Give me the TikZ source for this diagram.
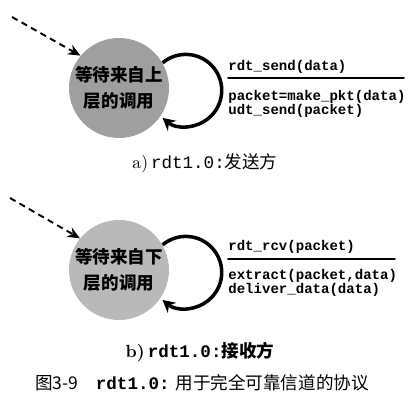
\documentclass[tikz,border=0pt]{standalone}
\usepackage{fontspec}
\setmonofont{Liberation Mono}
\newfontfamily\cjk{Noto Sans CJK SC}
\usetikzlibrary{arrows.meta}

\begin{document}
\begin{tikzpicture}[x=0.02cm,y=0.02cm,line cap=round,line join=round,
trangthai/.style={circle,minimum size=2cm,inner sep=0pt,align=center,
font=\cjk\bfseries\fontsize{10}{14.5}\selectfont},
vao/.style={line width=1.1pt,line cap=butt,dash pattern=on 3.6pt off 2.6pt,
-{Stealth[length=7pt,width=6pt]}},
vong/.style={line width=2pt,line cap=butt,-{Stealth[length=7pt,width=7.5pt]}},
nhan/.style={anchor=west,inner sep=0pt,font=\ttfamily\bfseries\fontsize{8}{9}\selectfont}]
\useasboundingbox (0,0) rectangle (411,405);
% Ben gui: trang thai cho lop tren
\node[trangthai,fill=gray!75] (gui) at (119,317) {等待来自上\\层的调用};
\coordinate (guivao) at (12,388);
\draw[vao] (guivao) -- (gui.140);
\draw[vong] (gui.30) arc[start angle=130,end angle=-130,radius=0.72cm];
\node[nhan] (guisk) at (228,338) {rdt\_send(data)};
\draw[line width=0.9pt] (228,327) -- (404,327);
\node[nhan] (guihd1) at (228,308) {packet=make\_pkt(data)};
\node[nhan] (guihd2) at (228,294) {udt\_send(packet)};
\node (guiten) at (205,242) {\fontsize{10}{12}\selectfont a)\,\texttt{rdt1.0:}{\cjk 发送方}};
% Ben nhan: trang thai cho lop duoi
\node[trangthai,fill=gray!55] (nhan) at (119,135) {等待来自下\\层的调用};
\coordinate (nhanvao) at (10,207);
\draw[vao] (nhanvao) -- (nhan.141);
\draw[vong] (nhan.30) arc[start angle=130,end angle=-130,radius=0.72cm];
\node[nhan] (nhansk) at (228,158) {rdt\_rcv(packet)};
\draw[line width=0.9pt] (228,146) -- (395,146);
\node[nhan] (nhanhd1) at (228,129) {extract(packet,data)};
\node[nhan] (nhanhd2) at (228,115) {deliver\_data(data)};
\node (nhanten) at (200,53) {\fontsize{10}{12}\selectfont\bfseries b)\,\texttt{rdt1.0:}{\cjk 接收方}};
% Chu thich hinh
\node (hinh) at (202,22) {\fontsize{10}{12}\selectfont{\cjk 图3-9}\quad\texttt{\bfseries rdt1.0:}\ {\cjk 用于完全可靠信道的协议}};
\end{tikzpicture}
\end{document}
